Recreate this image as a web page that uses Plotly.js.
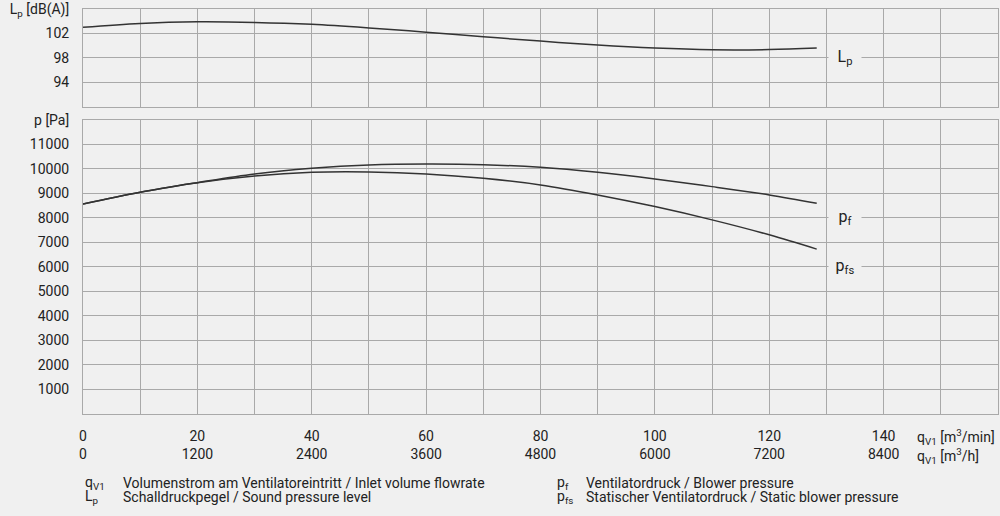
<!DOCTYPE html>
<html>
<head>
<meta charset="utf-8">
<script src="https://cdn.plot.ly/plotly-3.0.1.min.js"></script>
<style>
  html, body { margin: 0; padding: 0; background: #f0f0f0; }
  #chart { width: 1000px; height: 516px; }
</style>
</head>
<body>
<div id="chart"></div>
<script>
// ---- data ----
const flowMin = [0, 10, 20, 30, 40, 50, 60, 70, 80, 90, 100, 110, 120, 128.3];
const soundLevel = [103.0, 103.64, 103.9, 103.8, 103.48, 102.9, 102.2, 101.45, 100.74, 100.08, 99.59, 99.32, 99.35, 99.6];
const blowerPressure = [8574, 9050, 9442, 9796, 10027, 10163, 10204, 10176, 10068, 9864, 9593, 9280, 8941, 8603];
const staticPressure = [8574, 9050, 9442, 9715, 9864, 9878, 9796, 9620, 9348, 8941, 8465, 7923, 7312, 6729];

const xTickVals = [0, 20, 40, 60, 80, 100, 120, 140];
const xTickPerMin = ["0", "20", "40", "60", "80", "100", "120", "140"];
const xTickPerHour = ["0", "1200", "2400", "3600", "4800", "6000", "7200", "8400"];

const pTickVals = [1000, 2000, 3000, 4000, 5000, 6000, 7000, 8000, 9000, 10000, 11000, 12000];
const pTickText = ["1000", "2000", "3000", "4000", "5000", "6000", "7000", "8000", "9000", "10000", "11000", "p [Pa]"];
const lpTickVals = [94, 98, 102, 106];
const lpTickText = ["94", "98", "102", "L<sub>p</sub> [dB(A)]"];

const BG = '#f0f0f0';
const GRID = '#a9a9a9';
const TXT = '#222222';
const LINE = '#333333';
const FONT = 'Roboto, "Liberation Sans", sans-serif';

const traces = [
  { x: flowMin, y: soundLevel, xaxis: 'x2', yaxis: 'y2', type: 'scatter', mode: 'lines',
    line: { color: LINE, width: 1.5, shape: 'spline' }, hoverinfo: 'skip' },
  { x: flowMin, y: blowerPressure, xaxis: 'x', yaxis: 'y', type: 'scatter', mode: 'lines',
    line: { color: LINE, width: 1.5, shape: 'spline' }, hoverinfo: 'skip' },
  { x: flowMin, y: staticPressure, xaxis: 'x', yaxis: 'y', type: 'scatter', mode: 'lines',
    line: { color: LINE, width: 1.5, shape: 'spline' }, hoverinfo: 'skip' }
];

// vertical grid every 10 m³/min, labels only on the labelled values
const xGridVals = [];
const xGridText = [];
for (let v = 0; v <= 160; v += 10) {
  xGridVals.push(v);
  const i = xTickVals.indexOf(v);
  xGridText.push(i >= 0 ? xTickPerMin[i] + '<br>' + xTickPerHour[i] : '');
}

const axisCommon = {
  showline: true, mirror: true, linecolor: GRID, linewidth: 1,
  gridcolor: GRID, gridwidth: 1, zeroline: false, ticks: '',
  tickfont: { family: FONT, size: 14, color: TXT }
};

const ann = [];
function addText(text, x, y, xanchor, extra) {
  ann.push(Object.assign({ text: text, x: x, y: y, xref: 'paper', yref: 'paper',
    xanchor: xanchor, yanchor: 'middle', showarrow: false,
    font: { family: FONT, size: 14, color: TXT } }, extra || {}));
}
// axis unit labels
addText('q<sub>V1</sub> [m<sup>3</sup>/min]', 0.909, -0.056, 'left');
addText('q<sub>V1</sub> [m<sup>3</sup>/h]', 0.909, -0.104, 'left');
// bottom legend
addText('q<sub>V1</sub>', 0.0, -0.170, 'left');
addText('Volumenstrom am Ventilatoreintritt / Inlet volume flowrate', 0.0415, -0.170, 'left');
addText('L<sub>p</sub>', 0.0, -0.205, 'left');
addText('Schalldruckpegel / Sound pressure level', 0.0415, -0.205, 'left');
addText('p<sub>f</sub>', 0.516, -0.170, 'left');
addText('Ventilatordruck / Blower pressure', 0.5475, -0.170, 'left');
addText('p<sub>fs</sub>', 0.516, -0.205, 'left');
addText('Statischer Ventilatordruck / Static blower pressure', 0.5475, -0.205, 'left');
// curve labels
const curveLbl = (text, x, y, yref) => ann.push({ text: text, x: x, y: y, xref: 'x', yref: yref,
  xanchor: 'center', yanchor: 'middle', showarrow: false, bgcolor: BG, borderpad: 1, width: 30,
  font: { family: FONT, size: 16, color: TXT } });
curveLbl('L<sub>p</sub>', 133.2, 98, 'y2');
curveLbl('p<sub>f</sub>', 133.2, 8000, 'y');
curveLbl('p<sub>fs</sub>', 133.2, 6000, 'y');

const layout = {
  width: 1000, height: 516,
  paper_bgcolor: BG, plot_bgcolor: BG,
  margin: { l: 83, r: 2, t: 9, b: 102 },
  showlegend: false,
  font: { family: FONT, color: TXT },
  xaxis: Object.assign({}, axisCommon, {
    domain: [0, 1], anchor: 'y', range: [0, 160],
    tickmode: 'array', tickvals: xGridVals, ticktext: xGridText,
    ticklabelstandoff: 9
  }),
  xaxis2: Object.assign({}, axisCommon, {
    domain: [0, 1], anchor: 'y2', range: [0, 160],
    tickmode: 'array', tickvals: xGridVals, showticklabels: false
  }),
  yaxis: Object.assign({}, axisCommon, {
    domain: [0, 0.726], anchor: 'x', range: [0, 12000],
    tickmode: 'array', tickvals: pTickVals, ticktext: pTickText,
    ticklabelstandoff: 10
  }),
  yaxis2: Object.assign({}, axisCommon, {
    domain: [0.759, 1], anchor: 'x2', range: [90, 106],
    tickmode: 'array', tickvals: lpTickVals, ticktext: lpTickText,
    ticklabelstandoff: 10
  }),
  annotations: ann
};

Plotly.newPlot('chart', traces, layout, { displayModeBar: false, responsive: false });
</script>
</body>
</html>
